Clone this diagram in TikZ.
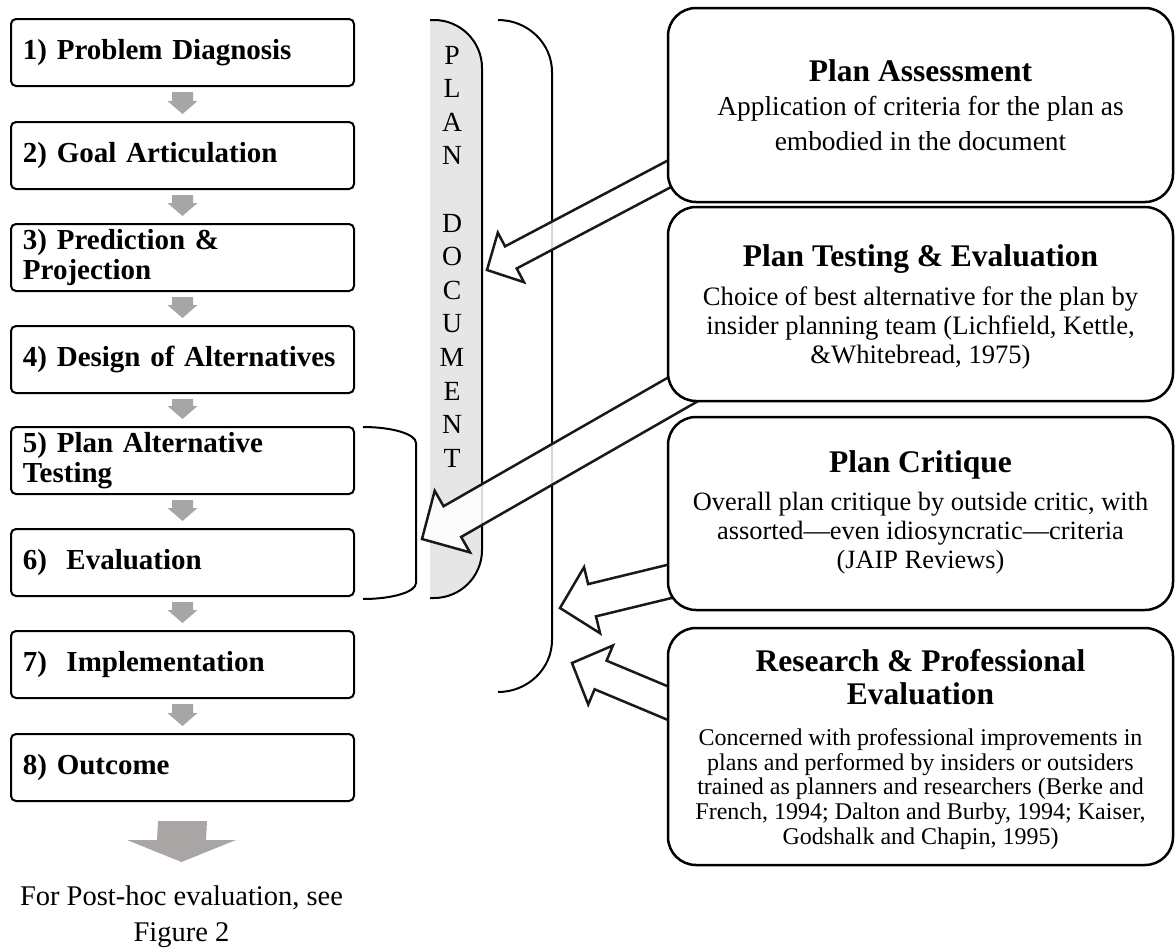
\documentclass[tikz,border=0pt]{standalone}
\usepackage{fontspec}
\setmainfont{Liberation Serif}
\usetikzlibrary{calc}
\pgfdeclarelayer{bg}
\pgfdeclarelayer{mid}
\pgfsetlayers{bg,mid,main}
\definecolor{docgray}{RGB}{230,230,230}
\definecolor{stepgray}{RGB}{166,166,166}
\definecolor{biggray}{RGB}{170,166,166}

% hollow block arrow: tail, tip, head length, head half width, shaft half width
\newcommand\hollowarrow[5]{%
  \path ($(#2)!#3!(#1)$) coordinate (hb);
  \draw[hollow] ($(#1)!#5!90:(#2)$) -- ($(hb)!#5!90:(#2)$) -- ($(hb)!#4!90:(#2)$) -- (#2)
    -- ($(hb)!#4!-90:(#2)$) -- ($(hb)!#5!-90:(#2)$) -- ($(#1)!#5!-90:(#2)$) -- cycle;}

% small grey step arrow between two stacked boxes
\newcommand\steparrow[2]{%
  \fill[stepgray] ($(#1.south)+(-10.5,5)$) -- ($(#1.south)+(10.5,5)$) -- ($(#2.north)+(10.5,-20)$)
    -- ($(#2.north)+(15,-20)$) -- ($(#2.north)+(0,-7)$) -- ($(#2.north)+(-15,-20)$)
    -- ($(#2.north)+(-10.5,-20)$) -- cycle;}

\begin{document}
\begin{tikzpicture}[x=1pt,y=-1pt,
  stepbox/.style={draw=black, line width=2pt, rounded corners=5pt, fill=white,
    text width=319pt, inner xsep=12pt, inner ysep=0pt, minimum height=67pt,
    align=left, anchor=north west, font=\fontsize{29}{30}\selectfont\bfseries},
  evalbox/.style={draw=black, line width=2.5pt, rounded corners=28pt, fill=white,
    minimum width=505pt, inner sep=0pt},
  ttl/.style={inner sep=0pt, align=center, font=\fontsize{31.5}{33}\selectfont\bfseries},
  bodytext/.style={inner sep=0pt, align=center, anchor=north},
  hollow/.style={draw=black!90, line width=2.5pt, fill=white, fill opacity=0.85, line join=miter},
  bracket/.style={draw=black, line width=2pt},
]
\useasboundingbox (0,0) rectangle (1176,951);

% ---- left stages ----
\node[stepbox] (b1) at (10,18)  {1) Problem Diagnosis};
\node[stepbox] (b2) at (10,121) {2) Goal Articulation};
\node[stepbox] (b3) at (10,223) {3) Prediction \&\\Projection};
\node[stepbox] (b4) at (10,325) {4) Design of Alternatives};
\node[stepbox] (b5) at (10,426) {5) Plan Alternative\\Testing};
\node[stepbox] (b6) at (10,528) {6)~\ Evaluation};
\node[stepbox] (b7) at (10,630) {7)~\ Implementation};
\node[stepbox] (b8) at (10,733) {8) Outcome};

\steparrow{b1}{b2}
\steparrow{b2}{b3}
\steparrow{b3}{b4}
\steparrow{b4}{b5}
\steparrow{b5}{b6}
\steparrow{b6}{b7}
\steparrow{b7}{b8}

\coordinate (posthoc) at (181.5,862);
\fill[biggray] ($(b8.south)+(-24.5,19)$) -- ($(b8.south)+(24.5,19)$) -- ($(posthoc)+(24.5,-22)$)
  -- ($(posthoc)+(54.5,-22)$) -- (posthoc) -- ($(posthoc)+(-54.5,-22)$) -- ($(posthoc)+(-24.5,-22)$) -- cycle;
\node[bodytext, font=\fontsize{28.5}{36}\selectfont] (phtext) at (181.5,886) {For Post-hoc evaluation, see\\Figure 2};

% ---- right boxes ----
\node[evalbox, minimum height=194pt] (pa) at (920.5,105) {};
\node[ttl, anchor=base] (paT) at (920.5,81.5) {Plan Assessment};
\node[bodytext, font=\fontsize{27.4}{35}\selectfont] (paB) at (920.5,95.8)
  {Application of criteria for the plan as\\embodied in the document};

\node[evalbox, minimum height=194pt] (pt) at (920.5,304) {};
\node[ttl, anchor=base] (ptT) at (920.5,266.5) {Plan Testing \& Evaluation};
\node[bodytext, font=\fontsize{26.6}{29}\selectfont] (ptB) at (920.5,286.4)
  {Choice of best alternative for the plan by\\insider planning team (Lichfield, Kettle,\\\&Whitebread, 1975)};

\node[evalbox, minimum height=193pt] (pc) at (920.5,513.5) {};
\node[ttl, anchor=base] (pcT) at (920.5,472.5) {Plan Critique};
\node[bodytext, font=\fontsize{26.4}{29}\selectfont] (pcB) at (920.5,491.5)
  {Overall plan critique by outside critic, with\\assorted—even idiosyncratic—criteria\\(JAIP Reviews)};

\node[evalbox, minimum height=237pt] (pr) at (920.5,746.5) {};
\node[ttl, anchor=north] (prT) at (920.5,649.6) {Research \& Professional\\Evaluation};
\node[bodytext, font=\fontsize{24}{24.7}\selectfont] (prB) at (920.5,728.4)
  {Concerned with professional improvements in\\plans and performed by insiders or outsiders\\trained as planners and researchers (Berke and\\French, 1994; Dalton and Burby, 1994; Kaiser,\\Godshalk and Chapin, 1995)};

% ---- plan document bar and brackets ----
\begin{pgfonlayer}{bg}
\fill[docgray] (430,20) -- (434,20) .. controls (460.5,20) and (482,41.5) .. (482,68)
  -- (482,550) .. controls (482,576.5) and (460.5,598) .. (434,598) -- (430,598) -- cycle;
\draw[bracket] (430,20) -- (434,20) .. controls (460.5,20) and (482,41.5) .. (482,68)
  -- (482,550) .. controls (482,576.5) and (460.5,598) .. (434,598) -- (430,598);
\node[inner sep=0pt, align=center, anchor=north, font=\fontsize{27.7}{33.6}\selectfont] (pdtext) at (452,45.8)
  {P\\L\\A\\N\\[33.6pt]D\\O\\C\\U\\M\\E\\N\\T};
\draw[bracket] (498,20) .. controls (527.8,20) and (552,43.3) .. (552,72)
  -- (552,640) .. controls (552,668.7) and (527.8,692) .. (498,692);
\draw[bracket] (363,427) .. controls (392,427) and (416,434) .. (416,443)
  -- (416,583) .. controls (416,592) and (392,599) .. (363,599);
\end{pgfonlayer}

% ---- hollow arrows ----
\coordinate (tA) at (705,155);  \coordinate (hA) at (487,270);
\coordinate (tB) at (708,375);  \coordinate (hB) at (422,539);
\coordinate (tC) at (696,575);  \coordinate (hC) at (560,608);
\coordinate (tD) at (701,717);  \coordinate (hD) at (572,663);
\begin{pgfonlayer}{mid}
\hollowarrow{tA}{hA}{27pt}{28pt}{12.5pt}
\hollowarrow{tB}{hB}{35pt}{35.5pt}{17.7pt}
\hollowarrow{tC}{hC}{33pt}{34pt}{16.6pt}
\hollowarrow{tD}{hD}{31pt}{32pt}{15.5pt}
\end{pgfonlayer}
\end{tikzpicture}
\end{document}
